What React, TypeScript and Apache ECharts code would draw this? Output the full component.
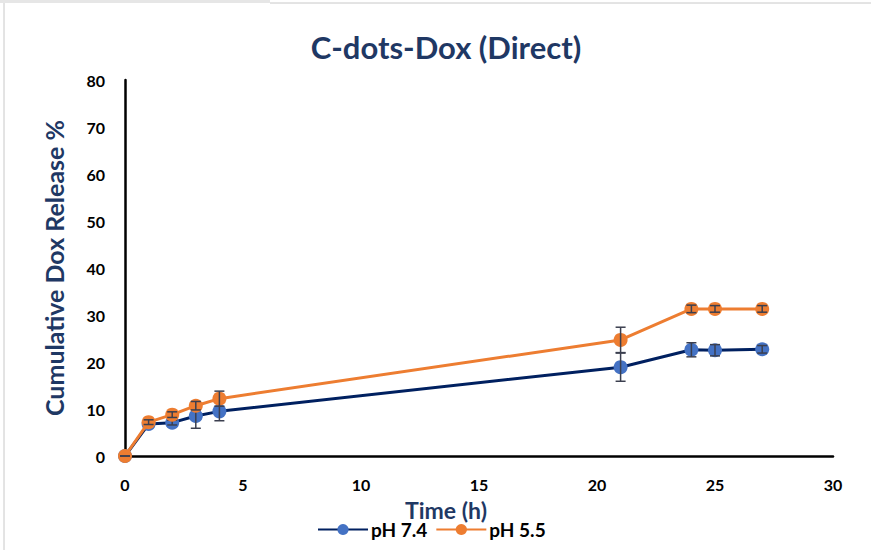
import React, { useEffect, useRef } from "react";
import * as echarts from "echarts";

const timeH = [0, 1, 2, 3, 4, 21, 24, 25, 27];
const ph74 = [0, 6.8, 7.1, 8.5, 9.5, 18.9, 22.6, 22.5, 22.7];
const ph74Err = [0, 0.5, 0.5, 2.6, 2.0, 3.0, 1.5, 1.2, 0.8];
const ph55 = [0, 7.2, 8.8, 10.7, 12.2, 24.7, 31.3, 31.3, 31.3];
const ph55Err = [0, 0.5, 0.6, 0.9, 1.6, 2.7, 0.8, 0.7, 0.7];
const yTicks = [0, 10, 20, 30, 40, 50, 60, 70, 80];

const NAVY = "#1F3864";

function errData(vals: number[], errs: number[]) {
  return timeH.map((t, i) => [t, vals[i] - errs[i], vals[i] + errs[i]]);
}

function errRender(params: any, api: any) {
  const x = api.value(0);
  const lo = api.coord([x, api.value(1)]);
  const hi = api.coord([x, api.value(2)]);
  const w = 5;
  const style = { stroke: "#3B3F4F", lineWidth: 1.5 };
  return {
    type: "group",
    children: [
      { type: "line", shape: { x1: lo[0], y1: lo[1], x2: hi[0], y2: hi[1] }, style },
      { type: "line", shape: { x1: lo[0] - w, y1: lo[1], x2: lo[0] + w, y2: lo[1] }, style },
      { type: "line", shape: { x1: hi[0] - w, y1: hi[1], x2: hi[0] + w, y2: hi[1] }, style },
    ],
  };
}

export default function App() {
  const ref = useRef<HTMLDivElement>(null);
  useEffect(() => {
    if (!ref.current) return;
    const chart = echarts.init(ref.current, null, { renderer: "svg" });
    const font = "Lato, 'Open Sans', sans-serif";
    chart.setOption({
      animation: false,
      backgroundColor: "#ffffff",
      textStyle: { fontFamily: font },
      title: {
        text: "C-dots-Dox (Direct)",
        left: 441,
        top: 26,
        textAlign: "center",
        textStyle: { color: NAVY, fontSize: 31, fontWeight: "bold", fontFamily: font },
      },
      grid: { left: 125, right: 38, top: 80, bottom: 94 },
      legend: {
        bottom: 6,
        left: 312,
        itemWidth: 50,
        itemHeight: 14,
        itemGap: 8,
        textStyle: { color: "#000", fontSize: 19, fontWeight: "bold", fontFamily: font, padding: [0, 0, 0, -2] },
        data: ["pH 7.4", "pH 5.5"],
      },
      xAxis: {
        type: "value",
        min: 0,
        max: 30,
        interval: 5,
        name: "Time (h)",
        nameLocation: "middle",
        nameGap: 42,
        nameTextStyle: {
          color: NAVY,
          fontSize: 23,
          fontWeight: "bold",
          fontFamily: font,
          padding: [0, 66, 0, 0],
        },
        axisLine: { show: true, onZero: false, lineStyle: { color: "#000", width: 2.5 } },
        axisTick: { show: false },
        splitLine: { show: false },
        axisLabel: { color: "#000", fontSize: 16, fontWeight: "bold", margin: 20, fontFamily: font },
      },
      yAxis: {
        type: "value",
        min: yTicks[0],
        max: yTicks[yTicks.length - 1],
        interval: 10,
        name: "Cumulative Dox Release %",
        nameLocation: "middle",
        nameGap: 59,
        nameTextStyle: { color: NAVY, fontSize: 25, fontWeight: "bold", fontFamily: font },
        axisLine: { show: true, lineStyle: { color: "#000", width: 2.5 } },
        axisTick: { show: false },
        splitLine: { show: false },
        axisLabel: { color: "#000", fontSize: 16, fontWeight: "bold", margin: 20, fontFamily: font },
      },
      series: [
        {
          name: "pH 7.4",
          type: "line",
          data: timeH.map((t, i) => [t, ph74[i]]),
          symbol: "circle",
          symbolSize: 14,
          lineStyle: { color: "#002060", width: 3 },
          itemStyle: { color: "#4472C4" },
          z: 3,
        },
        {
          name: "pH 7.4 err",
          type: "custom",
          renderItem: errRender,
          data: errData(ph74, ph74Err),
          z: 4,
          silent: true,
        },
        {
          name: "pH 5.5",
          type: "line",
          data: timeH.map((t, i) => [t, ph55[i]]),
          symbol: "circle",
          symbolSize: 14,
          lineStyle: { color: "#ED7D31", width: 3 },
          itemStyle: { color: "#ED7D31" },
          z: 5,
        },
        {
          name: "pH 5.5 err",
          type: "custom",
          renderItem: errRender,
          data: errData(ph55, ph55Err),
          z: 6,
          silent: true,
        },
      ],
      graphic: [
        { type: "rect", shape: { x: 0, y: 0, width: 270, height: 3 }, style: { fill: "#E6E6E6" } },
        { type: "line", shape: { x1: 270, y1: 3, x2: 871, y2: 3 }, style: { stroke: "#C8C8C8", lineWidth: 1 } },
        { type: "line", shape: { x1: 4, y1: 3, x2: 4, y2: 550 }, style: { stroke: "#C8C8C8", lineWidth: 1 } },
      ],
    });
    return () => chart.dispose();
  }, []);
  return <div ref={ref} style={{ width: 871, height: 550, position: "absolute", left: 0, top: 0 }} />;
}
